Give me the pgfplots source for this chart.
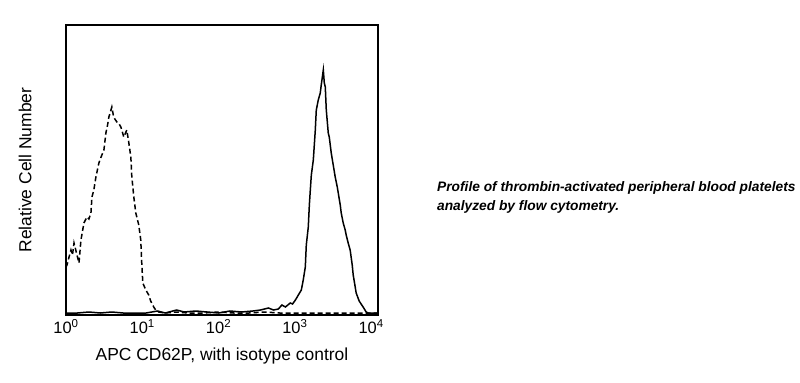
\documentclass[border=0pt]{standalone}
\usepackage{pgfplots}
\pgfplotsset{compat=1.18}
\usepackage{fontspec}
\setmainfont{Liberation Sans}
\begin{document}
\begin{tikzpicture}[x=1bp,y=1bp]
\path[use as bounding box] (-66,-67) rectangle (734,315);
\begin{axis}[
  at={(0,0)}, anchor=south west,
  scale only axis, width=312bp, height=290bp,
  xmin=0, xmax=4.09, ymin=0, ymax=290,
  xtick={0,1,2,3,4},
  xticklabels={10\textsuperscript{0},10\textsuperscript{1},10\textsuperscript{2},10\textsuperscript{3},10\textsuperscript{4}},
  ytick=\empty,
  major tick length=0pt,
  axis line style={line width=1.6bp},
  tick label style={font=\fontsize{16.5}{18}\selectfont},
  xticklabel style={yshift=-1bp},
  label style={font=\fontsize{17.5}{20}\selectfont},
  xlabel={APC CD62P, with isotype control},
  ylabel={Relative Cell Number},
  xlabel style={at={(axis description cs:0.5,-0.1414)}, anchor=center},
  ylabel style={at={(axis description cs:-0.131,0.5)}, anchor=center},
  clip=true,
]
% isotype control (dashed)
\addplot[black, line width=1.5bp, dash pattern=on 5bp off 3bp] coordinates {
(0.000,48) (0.013,50) (0.040,58) (0.065,65) (0.085,60) (0.105,72) (0.125,66) (0.144,60) (0.170,52) (0.196,75)
(0.235,92) (0.275,98) (0.300,96) (0.327,102) (0.340,118) (0.365,125) (0.392,138) (0.431,152) (0.470,160) (0.497,165)
(0.523,182) (0.545,190) (0.562,198) (0.601,208) (0.620,200) (0.640,196) (0.667,193) (0.690,192) (0.719,188) (0.758,178)
(0.797,185) (0.824,172) (0.850,158) (0.863,138) (0.889,118) (0.915,102) (0.954,90) (0.980,75) (0.993,52) (1.007,32)
(1.046,25) (1.085,20) (1.110,14) (1.150,8) (1.176,5) (1.216,3) (1.300,2) (1.450,3) (1.600,2) (1.800,2) (2.000,3)
(2.200,2) (2.400,2) (2.600,3) (2.800,2) (3.000,2) (3.200,2) (3.400,2) (3.600,2) (3.800,2) (4.000,2) (4.090,2)
};
% CD62P (solid)
\addplot[black, line width=1.5bp] coordinates {
(0.000,2) (0.150,2) (0.300,3) (0.450,2) (0.600,3) (0.750,2) (0.900,2) (1.050,2) (1.200,4) (1.300,2) (1.450,5)
(1.550,3) (1.700,4) (1.850,3) (2.000,2) (2.150,4) (2.300,3) (2.450,4) (2.550,5) (2.654,7) (2.720,5) (2.784,6)
(2.830,10) (2.876,8) (2.940,12) (2.970,11) (3.007,15) (3.046,20) (3.085,25) (3.110,35) (3.137,48) (3.150,70)
(3.176,88) (3.190,110) (3.200,122) (3.216,140) (3.242,155) (3.268,185) (3.281,205) (3.307,215) (3.333,222)
(3.346,230) (3.373,245) (3.386,232) (3.399,228) (3.412,205) (3.438,182) (3.451,178) (3.477,162) (3.503,150)
(3.529,138) (3.556,128) (3.569,122) (3.595,110) (3.608,102) (3.634,92) (3.660,85) (3.673,80) (3.699,72)
(3.725,65) (3.752,50) (3.765,40) (3.791,28) (3.804,22) (3.843,14) (3.895,8) (3.935,3) (3.961,2) (4.026,2) (4.090,2)
};
\end{axis}
\node[anchor=north west, align=left, inner sep=0pt, font=\fontsize{13.8}{19.5}\selectfont\bfseries\itshape]
  at (371,134) {Profile of thrombin-activated peripheral blood platelets\\analyzed by flow cytometry.};
\end{tikzpicture}
\end{document}
